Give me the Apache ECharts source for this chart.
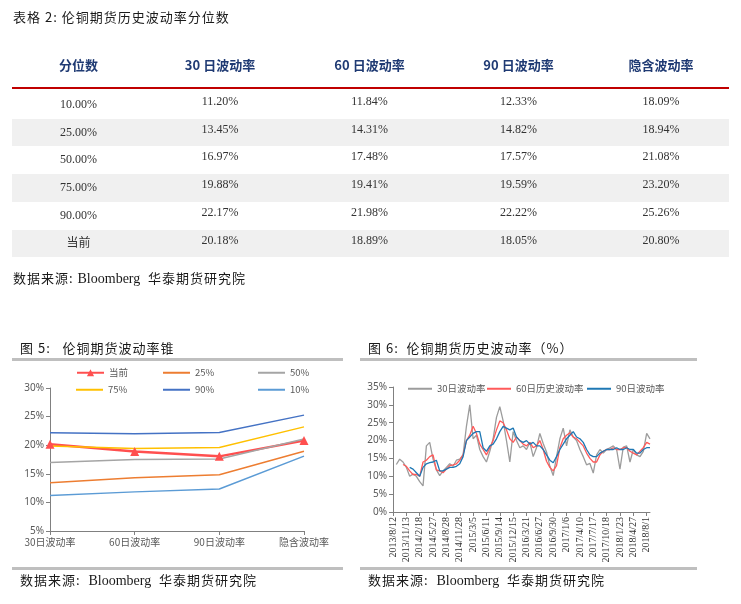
<!DOCTYPE html>
<html><head><meta charset="utf-8">
<script src="https://cdn.jsdelivr.net/npm/echarts@6/dist/echarts.min.js"></script>
<style>
html,body{margin:0;padding:0;background:#fff;width:741px;height:604px;overflow:hidden;}
#chart{position:absolute;left:0;top:0;width:741px;height:604px;}
.t{position:absolute;white-space:nowrap;font-family:"Noto Sans CJK SC",sans-serif;color:#222;line-height:1;}
.cap{font-size:13px;letter-spacing:1px;color:#1a1a1a;}
.lat{font-family:"Liberation Serif",serif;letter-spacing:0;}
.hd{font-size:13px;font-weight:bold;color:#1F3A73;transform:translateX(-50%);}
.cell{font-family:"Liberation Serif",serif;font-size:12px;color:#333;transform:translateX(-50%);}
.band{position:absolute;background:#F0F0F0;}
.rule{position:absolute;background:#C00000;}
.sep{position:absolute;background:#BFBFBF;}
</style></head><body>
<div id="chart"></div>
<div id="ov"></div>
<script>
// ---------- table / cone data ----------
const quantileLabels = ['10.00%','25.00%','50.00%','75.00%','90.00%','当前'];
const columnHeaders = ['分位数','30 日波动率','60 日波动率','90 日波动率','隐含波动率'];
const vol30 = [11.20,13.45,16.97,19.88,22.17,20.18];
const vol60 = [11.84,14.31,17.48,19.41,21.98,18.89];
const vol90 = [12.33,14.82,17.57,19.59,22.22,18.05];
const volImplied = [18.09,18.94,21.08,23.20,25.26,20.80];
const coneCategories = ['30日波动率','60日波动率','90日波动率','隐含波动率'];
const coneSeriesNames = ['当前','25%','50%','75%','90%','10%'];
const coneSeriesRow = [5,1,2,3,4,0]; // row of the table for each cone series

// ---------- history chart data (4 points per tick interval) ----------
const tickDates = ['2013/8/12','2013/11/13','2014/2/18','2014/5/27','2014/8/28','2014/11/28','2015/3/5','2015/6/11','2015/9/14','2015/12/15','2016/3/21','2016/6/27','2016/9/30','2017/1/6','2017/4/10','2017/7/17','2017/10/18','2018/1/23','2018/4/27','2018/8/1'];
const hist30 = [null,13.3,14.8,14.0,12.5,10.0,10.6,10.0,8.5,7.3,18.5,19.5,14.8,11.8,10.2,11.5,12.5,13.5,12.8,14.5,14.8,16.0,24.0,30.0,20.5,21.5,17.5,15.5,14.0,17.0,20.5,26.5,29.5,25.5,20.0,14.0,22.5,20.0,18.0,18.5,17.5,19.5,15.5,18.0,22.0,19.2,16.8,12.8,10.2,15.5,20.5,23.5,18.5,23.0,21.0,20.0,17.5,15.5,13.2,13.6,10.9,16.0,17.5,16.5,17.5,18.0,18.5,17.5,12.0,18.2,18.5,14.0,17.5,16.0,15.5,17.0,22.0,20.5];
const hist60 = [null,null,null,13.3,12.8,11.5,10.5,10.5,10.0,14.0,14.5,15.5,16.0,11.8,11.5,11.0,12.0,13.0,13.2,13.5,14.5,16.0,20.0,21.5,24.0,22.0,19.0,17.5,16.0,18.0,20.0,23.0,25.5,25.0,23.0,20.5,19.5,21.0,20.0,19.0,18.5,19.5,18.0,18.5,20.0,17.5,14.2,12.5,11.5,13.0,18.0,20.5,21.5,22.2,21.0,20.5,19.5,18.5,16.5,15.0,14.0,14.0,16.0,17.0,17.5,17.5,18.0,17.5,17.5,18.0,18.0,17.0,16.5,16.0,17.0,18.0,19.5,19.0];
const hist90 = [null,null,null,null,null,12.5,12.0,11.0,10.0,12.5,13.5,13.8,14.0,14.5,11.5,11.5,12.0,12.5,12.5,12.8,13.5,15.5,20.0,21.0,22.0,22.5,22.5,18.0,17.0,18.5,19.0,20.5,22.5,24.0,23.5,23.0,23.5,21.0,20.0,19.5,20.0,19.0,19.5,18.5,18.5,17.5,16.0,14.5,13.8,15.5,17.5,19.0,20.5,21.5,22.5,21.0,20.5,19.5,17.5,16.0,15.5,15.5,16.5,17.0,17.5,17.5,17.5,18.0,17.5,17.5,18.0,17.5,17.5,16.5,16.5,17.5,18.0,18.0];
const histNames = ['30日波动率','60日历史波动率','90日波动率'];
const POINTS_PER_TICK = 4;

// ---------- HTML overlay (titles, table, captions) ----------
const ov = document.getElementById('ov');
function add(cls, html, css){const d=document.createElement('div');d.className=cls;d.innerHTML=html;Object.assign(d.style,css);ov.appendChild(d);return d;}
add('t cap','表格 2:&nbsp;伦铜期货历史波动率分位数',{left:'13px',top:'10px'});
const colBounds=[12,145,295,444,593,729];
const colCenter=i=>(colBounds[i]+colBounds[i+1])/2;
columnHeaders.forEach((h,i)=>add('t hd',h,{left:colCenter(i)+'px',top:'58px'}));
add('rule','',{left:'12px',top:'87px',width:'717px',height:'2px'});
const rowTop=91,rowH=27.7;
const cols=[vol30,vol60,vol90,volImplied];
quantileLabels.forEach((q,r)=>{
  const y=rowTop+r*rowH;
  if(r%2===1) add('band','',{left:'12px',top:y+'px',width:'717px',height:rowH+'px'});
  const lab=add('t cell',q,{left:colCenter(0)+'px',top:(y+7)+'px'});
  if(q==='当前'){lab.style.fontFamily='"Noto Sans CJK SC",sans-serif';lab.style.top=(y+6)+'px';}
  cols.forEach((c,ci)=>add('t cell',c[r].toFixed(2)+'%',{left:colCenter(ci+1)+'px',top:(y+4)+'px'}));
});
add('t cap','数据来源:&nbsp;<span class="lat" style="font-size:14px">Bloomberg</span>&nbsp;&nbsp;华泰期货研究院',{left:'13px',top:'271px'});
add('t cap','图 5:&nbsp;&nbsp;&nbsp;伦铜期货波动率锥',{left:'20px',top:'341px'});
add('t cap','图 6:&nbsp;&nbsp;伦铜期货历史波动率（%）',{left:'368px',top:'341px'});
add('sep','',{left:'12px',top:'358px',width:'331px',height:'3px'});
add('sep','',{left:'360px',top:'358px',width:'337px',height:'3px'});
add('sep','',{left:'12px',top:'567px',width:'331px',height:'3px'});
add('sep','',{left:'360px',top:'567px',width:'337px',height:'3px'});
add('t cap','数据来源:&nbsp;&nbsp;<span class="lat" style="font-size:14px">Bloomberg</span>&nbsp;&nbsp;华泰期货研究院',{left:'20px',top:'573px'});
add('t cap','数据来源:&nbsp;&nbsp;<span class="lat" style="font-size:14px">Bloomberg</span>&nbsp;&nbsp;华泰期货研究院',{left:'368px',top:'573px'});

// ---------- ECharts ----------
const chart = echarts.init(document.getElementById('chart'), null, {renderer:'canvas'});
const coneColors = {'当前':'#FF4F4F','25%':'#ED7D31','50%':'#A5A5A5','75%':'#FFC000','90%':'#4472C4','10%':'#5B9BD5'};
const histColors = ['#9C9C9C','#FF5A5A','#1F78B4'];
const axisGrey = '#808080';
const labelGrey = '#595959';

const coneSeries = coneSeriesNames.map((n,k)=>{
  const r = coneSeriesRow[k];
  const isCur = n==='当前';
  return {
    name:n, type:'line', xAxisIndex:0, yAxisIndex:0,
    data:[vol30[r],vol60[r],vol90[r],volImplied[r]],
    symbol: isCur?'triangle':'none', symbolSize:9,
    lineStyle:{width:isCur?2.5:1.5,color:coneColors[n]},
    itemStyle:{color:coneColors[n]},
    animation:false
  };
});
const histIdx = hist30.map((_,i)=>String(i));
const histSeries = [hist30,hist60,hist90].map((d,k)=>({
  name:histNames[k], type:'line', xAxisIndex:1, yAxisIndex:1, data:d,
  symbol:'none', connectNulls:false,
  lineStyle:{width:1.3,color:histColors[k]}, itemStyle:{color:histColors[k]},
  animation:false
}));

const legendPos = [
  ['当前',76,368],['25%',163,368],['50%',258,368],
  ['75%',76,385],['90%',163,385],['10%',258,385]
];
const legends = legendPos.map(([n,l,t])=>{
  const isCur = n==='当前';
  return {
    data:[isCur?{name:n}:{name:n,icon:'rect'}], left:l, top:t, padding:0,
    itemWidth:27, itemHeight:isCur?9:2, itemGap:0,
    textStyle:{fontSize:9.5,color:labelGrey,fontFamily:'"Noto Sans CJK SC",sans-serif'}
  };
});
const histLegendPos = [[408,384],[487,384],[587,384]];
histNames.forEach((n,k)=>legends.push({
  data:[{name:n,icon:'rect'}], left:histLegendPos[k][0], top:histLegendPos[k][1], padding:0,
  itemWidth:24, itemHeight:2, itemGap:0,
  textStyle:{fontSize:9.5,color:labelGrey,fontFamily:'"Noto Sans CJK SC",sans-serif'}
}));

chart.setOption({
  animation:false,
  backgroundColor:'transparent',
  legend: legends,
  grid:[
    {left:50, top:388, width:254, height:143, containLabel:false},
    {left:393, top:387, width:257, height:125, containLabel:false}
  ],
  xAxis:[
    {gridIndex:0, type:'category', data:coneCategories, boundaryGap:false,
     axisLine:{lineStyle:{color:axisGrey,width:1}},
     axisTick:{show:true,length:4,alignWithLabel:true,lineStyle:{color:axisGrey}},
     axisLabel:{color:labelGrey,fontSize:10,margin:6,fontFamily:'"Noto Sans CJK SC",sans-serif'}},
    {gridIndex:1, type:'category', data:histIdx, boundaryGap:false,
     axisLine:{lineStyle:{color:axisGrey,width:1}},
     axisTick:{show:true,length:4,interval:POINTS_PER_TICK-1,lineStyle:{color:axisGrey}},
     axisLabel:{interval:POINTS_PER_TICK-1, rotate:90, margin:5, color:'#333', fontSize:10,
       fontFamily:'"Liberation Serif",serif',
       formatter:(v,i)=>tickDates[i/POINTS_PER_TICK]||''}}
  ],
  yAxis:[
    {gridIndex:0, type:'value', min:5, max:30, interval:5,
     axisLine:{show:true,lineStyle:{color:axisGrey}},
     axisTick:{show:true,length:4,lineStyle:{color:axisGrey}},
     splitLine:{show:false},
     axisLabel:{formatter:'{value}%',fontSize:10,color:labelGrey,margin:6,fontFamily:'"Noto Sans",sans-serif'}},
    {gridIndex:1, type:'value', min:0, max:35, interval:5,
     axisLine:{show:true,lineStyle:{color:axisGrey}},
     axisTick:{show:true,length:4,lineStyle:{color:axisGrey}},
     splitLine:{show:false},
     axisLabel:{formatter:'{value}%',fontSize:10,color:labelGrey,margin:6,fontFamily:'"Noto Sans",sans-serif'}}
  ],
  series: coneSeries.concat(histSeries)
});
</script>
</body></html>
